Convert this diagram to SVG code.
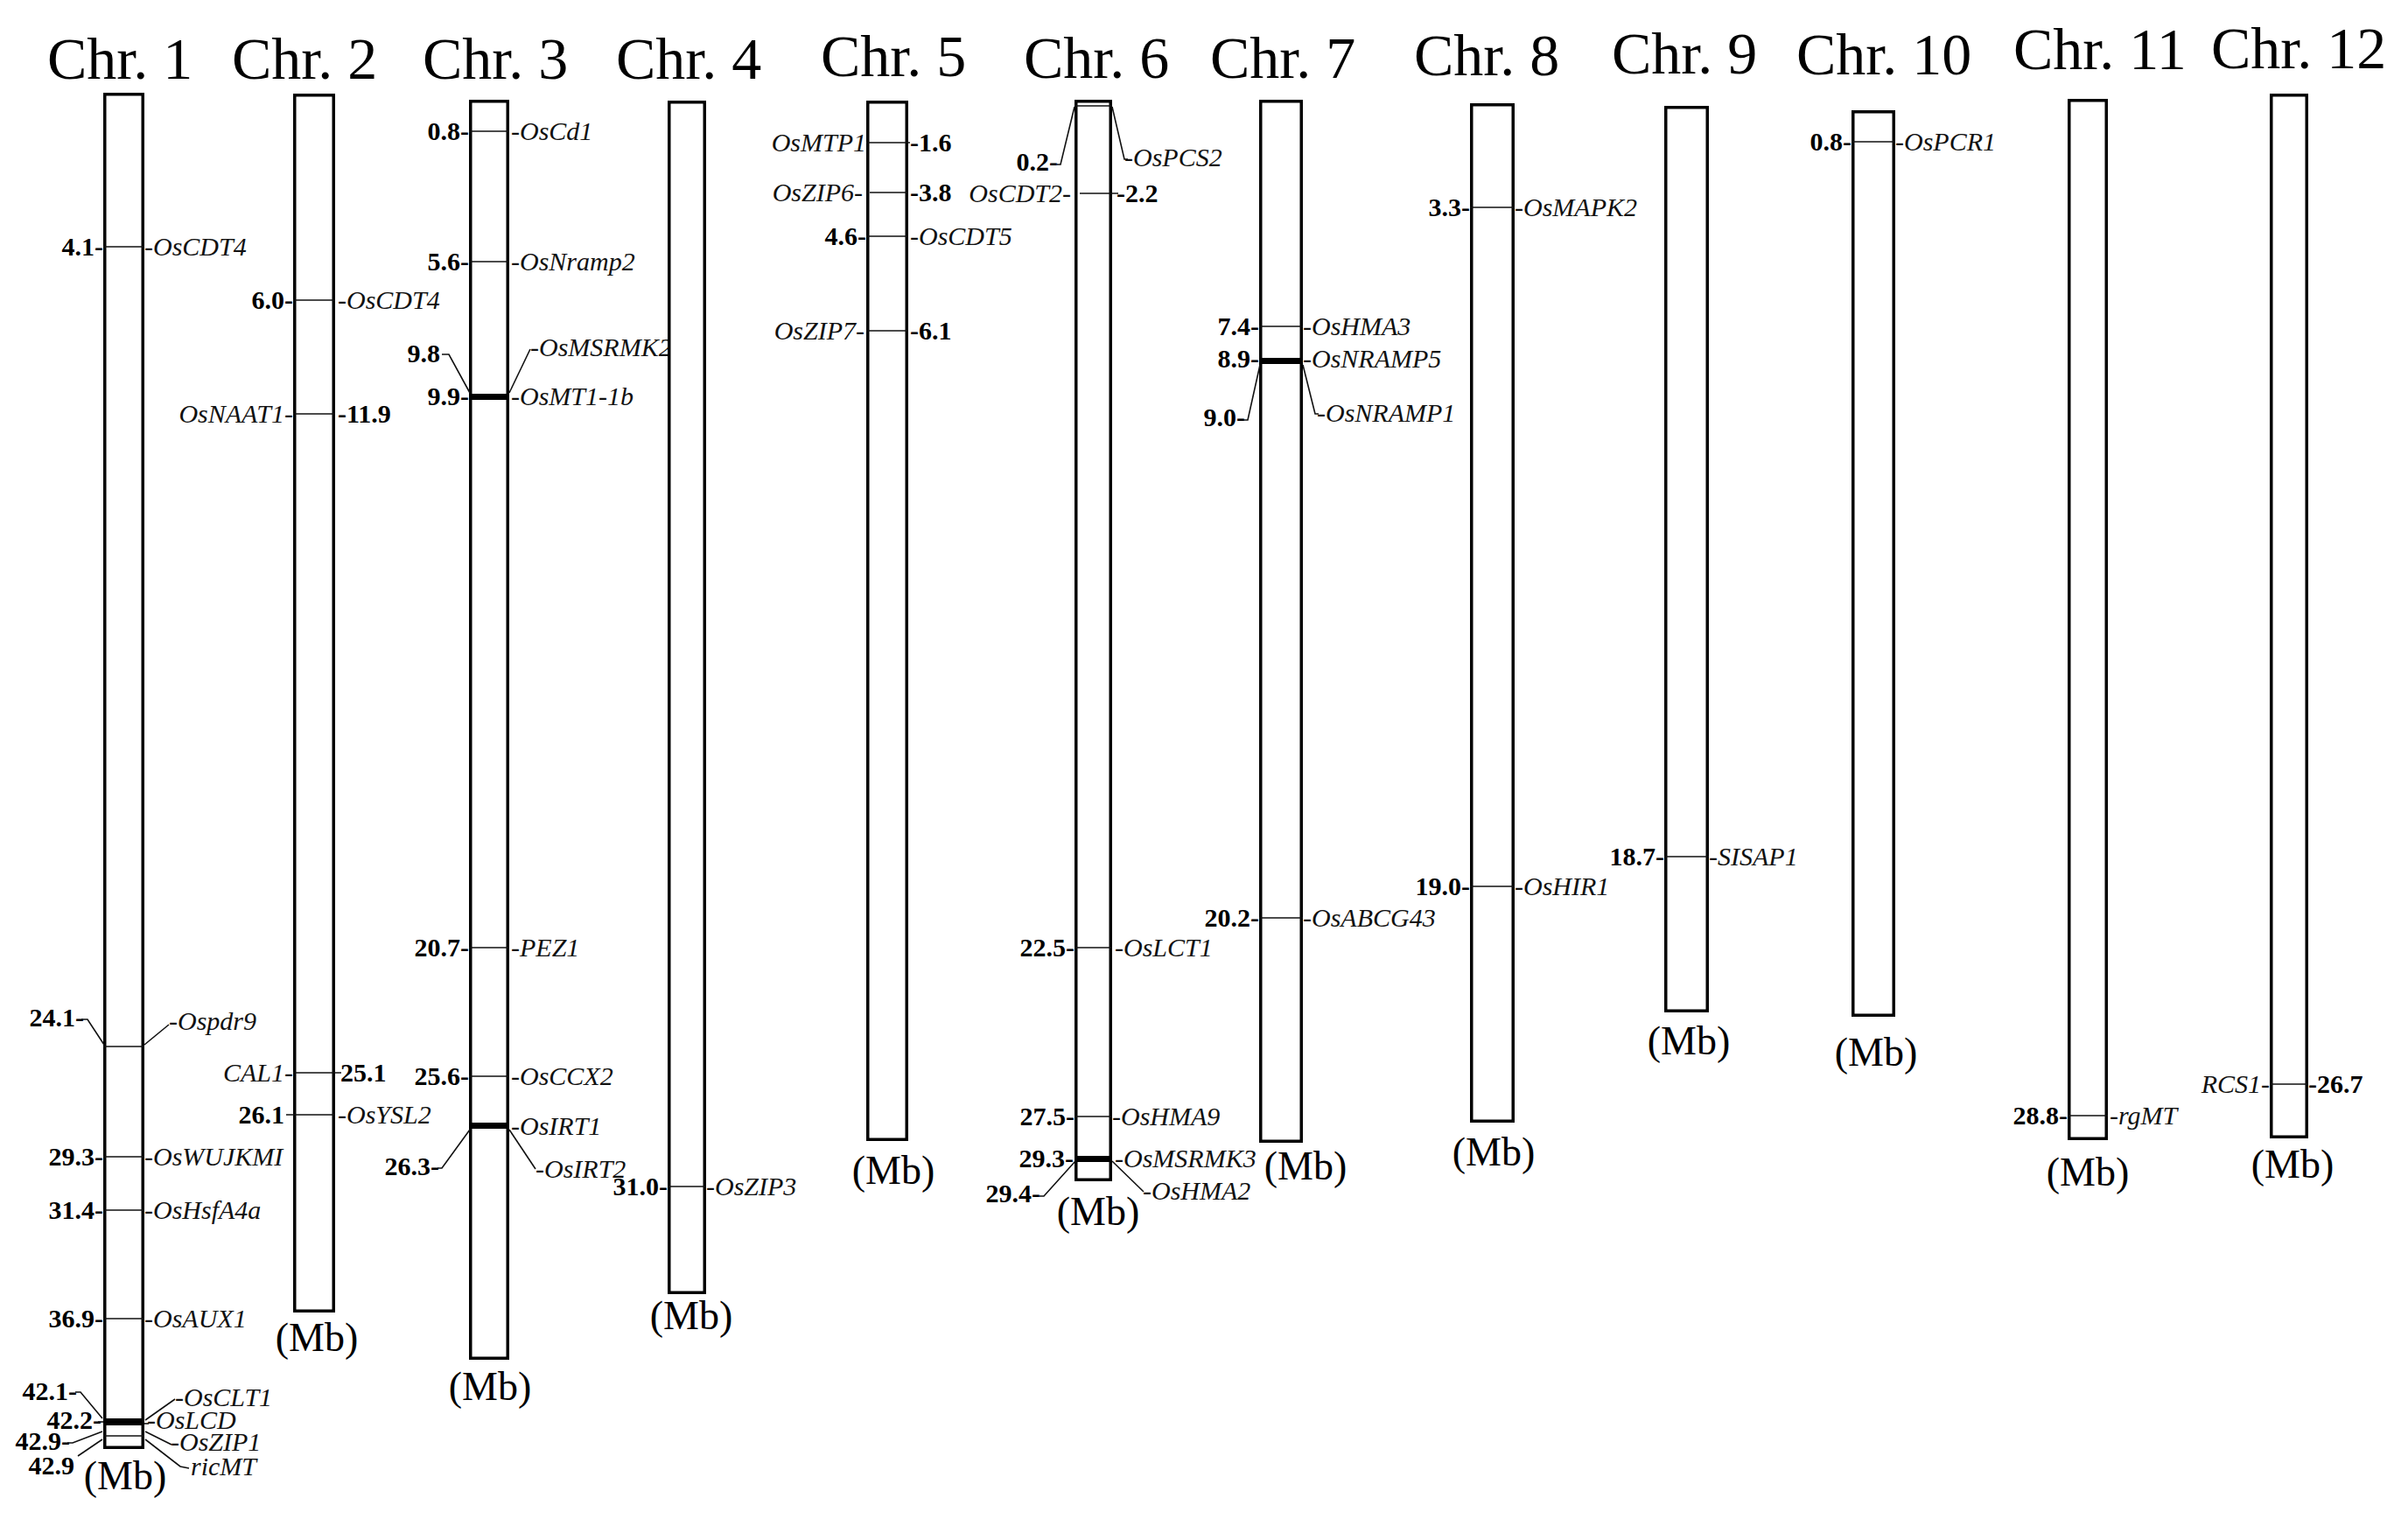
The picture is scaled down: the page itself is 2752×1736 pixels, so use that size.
<svg xmlns="http://www.w3.org/2000/svg" width="2752" height="1736" viewBox="0 0 2752 1736">
<style>
.chr{fill:#fff;stroke:#000;stroke-width:3.5}
.band{fill:#000}
.t{font-family:"Liberation Serif","Times New Roman",serif;font-size:68px;fill:#000}
.mb{font-family:"Liberation Serif","Times New Roman",serif;font-size:46px;fill:#000;text-anchor:middle}
.n{font-family:"Liberation Serif","Times New Roman",serif;font-size:30px;font-weight:bold;fill:#000}
.g{font-family:"Liberation Serif","Times New Roman",serif;font-size:30px;font-style:italic;fill:#111}
.e{text-anchor:end}
.ln{stroke:#111;stroke-width:1.6;fill:none}
</style>
<rect width="2752" height="1736" fill="#fff"/>

<g id="chr1">
<text class="t" x="54" y="90">Chr. 1</text>
<rect class="chr" x="119.75" y="107.75" width="43.5" height="1546.5"/>
<rect class="band" x="119" y="1621" width="45" height="8"/>
<text class="n e" x="118" y="292">4.1-</text><text class="g" x="165" y="292">-OsCDT4</text>
<text class="n e" x="96" y="1173">24.1-</text><text class="g" x="193" y="1177">-Ospdr9</text>
<text class="n e" x="118" y="1332">29.3-</text><text class="g" x="165" y="1332">-OsWUJKMI</text>
<text class="n e" x="118" y="1393">31.4-</text><text class="g" x="165" y="1393">-OsHsfA4a</text>
<text class="n e" x="118" y="1517">36.9-</text><text class="g" x="165" y="1517">-OsAUX1</text>
<text class="n e" x="88" y="1600">42.1-</text><text class="g" x="200" y="1607">-OsCLT1</text>
<text class="n e" x="116" y="1633">42.2-</text><text class="g" x="168" y="1633">-OsLCD</text>
<text class="n e" x="80" y="1657">42.9-</text><text class="g" x="195" y="1658">-OsZIP1</text>
<text class="n e" x="85" y="1685">42.9</text><text class="g" x="218" y="1686">ricMT</text>
<text class="mb" x="143" y="1702">(Mb)</text>
</g>

<g id="chr2">
<text class="t" x="265" y="90">Chr. 2</text>
<rect class="chr" x="336.75" y="108.75" width="44.5" height="1389.5"/>
<text class="n e" x="335" y="353">6.0-</text><text class="g" x="386" y="353">-OsCDT4</text>
<text class="g e" x="335" y="483">OsNAAT1-</text><text class="n" x="386" y="483">-11.9</text>
<text class="g e" x="335" y="1236">CAL1-</text><text class="n" x="389" y="1236">25.1</text>
<text class="n e" x="325" y="1284">26.1</text><text class="g" x="386" y="1284">-OsYSL2</text>
<text class="mb" x="362" y="1544">(Mb)</text>
</g>

<g id="chr3">
<text class="t" x="483" y="90">Chr. 3</text>
<rect class="chr" x="537.75" y="115.75" width="42.5" height="1436.5"/>
<rect class="band" x="537" y="450" width="44" height="7"/>
<rect class="band" x="537" y="1283" width="44" height="7"/>
<text class="n e" x="536" y="160">0.8-</text><text class="g" x="584" y="160">-OsCd1</text>
<text class="n e" x="536" y="309">5.6-</text><text class="g" x="584" y="309">-OsNramp2</text>
<text class="n e" x="503" y="414">9.8</text><text class="g" x="606" y="407">-OsMSRMK2</text>
<text class="n e" x="536" y="463">9.9-</text><text class="g" x="584" y="463">-OsMT1-1b</text>
<text class="n e" x="536" y="1093">20.7-</text><text class="g" x="584" y="1093">-PEZ1</text>
<text class="n e" x="536" y="1240">25.6-</text><text class="g" x="584" y="1240">-OsCCX2</text>
<text class="g" x="584" y="1297">-OsIRT1</text>
<text class="n e" x="502" y="1343">26.3-</text><text class="g" x="612" y="1346">-OsIRT2</text>
<text class="mb" x="560" y="1600">(Mb)</text>
</g>

<g id="chr4">
<text class="t" x="704" y="90">Chr. 4</text>
<rect class="chr" x="764.75" y="116.75" width="40.5" height="1360.5"/>
<text class="n e" x="763" y="1366">31.0-</text><text class="g" x="807" y="1366">-OsZIP3</text>
<text class="mb" x="790" y="1519">(Mb)</text>
</g>

<g id="chr5">
<text class="t" x="938" y="87">Chr. 5</text>
<rect class="chr" x="991.75" y="116.75" width="44.5" height="1185.5"/>
<text class="g e" x="990" y="173">OsMTP1</text><text class="n" x="1040" y="173">-1.6</text>
<text class="g e" x="986" y="230">OsZIP6-</text><text class="n" x="1040" y="230">-3.8</text>
<text class="n e" x="990" y="280">4.6-</text><text class="g" x="1040" y="280">-OsCDT5</text>
<text class="g e" x="988" y="388">OsZIP7-</text><text class="n" x="1040" y="388">-6.1</text>
<text class="mb" x="1021" y="1353">(Mb)</text>
</g>

<g id="chr6">
<text class="t" x="1170" y="89">Chr. 6</text>
<rect class="chr" x="1229.75" y="115.75" width="39.5" height="1232.5"/>
<rect class="band" x="1229" y="1321" width="41" height="7"/>
<text class="n e" x="1209" y="195">0.2-</text><text class="g" x="1285" y="190">-OsPCS2</text>
<text class="g e" x="1224" y="231">OsCDT2-</text><text class="n" x="1276" y="231">-2.2</text>
<text class="n e" x="1228" y="1093">22.5-</text><text class="g" x="1274" y="1093">-OsLCT1</text>
<text class="n e" x="1228" y="1286">27.5-</text><text class="g" x="1271" y="1286">-OsHMA9</text>
<text class="n e" x="1227" y="1334">29.3-</text><text class="g" x="1274" y="1334">-OsMSRMK3</text>
<text class="n e" x="1189" y="1374">29.4-</text><text class="g" x="1306" y="1371">-OsHMA2</text>
<text class="mb" x="1255" y="1400">(Mb)</text>
</g>

<g id="chr7">
<text class="t" x="1383" y="89">Chr. 7</text>
<rect class="chr" x="1440.75" y="115.75" width="46.5" height="1188.5"/>
<rect class="band" x="1440" y="409" width="48" height="7"/>
<text class="n e" x="1439" y="383">7.4-</text><text class="g" x="1489" y="383">-OsHMA3</text>
<text class="n e" x="1439" y="420">8.9-</text><text class="g" x="1489" y="420">-OsNRAMP5</text>
<text class="n e" x="1423" y="487">9.0-</text><text class="g" x="1505" y="482">-OsNRAMP1</text>
<text class="n e" x="1439" y="1059">20.2-</text><text class="g" x="1489" y="1059">-OsABCG43</text>
<text class="mb" x="1492" y="1348">(Mb)</text>
</g>

<g id="chr8">
<text class="t" x="1616" y="86">Chr. 8</text>
<rect class="chr" x="1681.75" y="119.75" width="47.5" height="1161.5"/>
<text class="n e" x="1680" y="247">3.3-</text><text class="g" x="1731" y="247">-OsMAPK2</text>
<text class="n e" x="1680" y="1023">19.0-</text><text class="g" x="1731" y="1023">-OsHIR1</text>
<text class="mb" x="1707" y="1332">(Mb)</text>
</g>

<g id="chr9">
<text class="t" x="1842" y="84">Chr. 9</text>
<rect class="chr" x="1903.75" y="122.75" width="47.5" height="1032.5"/>
<text class="n e" x="1902" y="989">18.7-</text><text class="g" x="1953" y="989">-SISAP1</text>
<text class="mb" x="1930" y="1205">(Mb)</text>
</g>

<g id="chr10">
<text class="t" x="2053" y="85">Chr. 10</text>
<rect class="chr" x="2117.75" y="127.75" width="46.5" height="1032.5"/>
<text class="n e" x="2116" y="172">0.8-</text><text class="g" x="2166" y="172">-OsPCR1</text>
<text class="mb" x="2144" y="1218">(Mb)</text>
</g>

<g id="chr11">
<text class="t" x="2301" y="79">Chr. 11</text>
<rect class="chr" x="2364.75" y="114.75" width="42.5" height="1186.5"/>
<text class="n e" x="2363" y="1285">28.8-</text><text class="g" x="2411" y="1285">-rgMT</text>
<text class="mb" x="2386" y="1355">(Mb)</text>
</g>

<g id="chr12">
<text class="t" x="2527" y="78">Chr. 12</text>
<rect class="chr" x="2595.75" y="108.75" width="40.5" height="1190.5"/>
<text class="g e" x="2594" y="1249">RCS1-</text><text class="n" x="2638" y="1249">-26.7</text>
<text class="mb" x="2620" y="1346">(Mb)</text>
</g>

<g id="connectors" class="ln">
<line x1="118" y1="282" x2="165" y2="282"/>
<line x1="118" y1="1196" x2="165" y2="1196"/>
<polyline points="93,1165 100,1165 119,1194"/>
<polyline points="165,1194 193,1171"/>
<line x1="118" y1="1322" x2="165" y2="1322"/>
<line x1="118" y1="1383" x2="165" y2="1383"/>
<line x1="118" y1="1507" x2="165" y2="1507"/>
<polyline points="86,1591 92,1591 117,1621"/>
<line x1="112" y1="1625" x2="118" y2="1625"/>
<polyline points="77,1649 83,1649 117,1636"/>
<polyline points="89,1664 117,1645"/>
<line x1="118" y1="1641" x2="165" y2="1641"/>
<polyline points="166,1623 200,1599"/>
<line x1="165" y1="1627" x2="170" y2="1627"/>
<polyline points="166,1636 196,1651"/>
<polyline points="166,1645 206,1676 216,1678"/>
<line x1="335" y1="343" x2="383" y2="343"/>
<line x1="335" y1="473" x2="383" y2="473"/>
<line x1="335" y1="1226" x2="390" y2="1226"/>
<line x1="327" y1="1274" x2="383" y2="1274"/>
<line x1="536" y1="150" x2="582" y2="150"/>
<line x1="536" y1="299" x2="582" y2="299"/>
<polyline points="505,405 513,405 537,449"/>
<polyline points="582,449 606,399"/>
<line x1="536" y1="1083" x2="582" y2="1083"/>
<line x1="536" y1="1230" x2="582" y2="1230"/>
<polyline points="500,1335 505,1335 537,1291"/>
<polyline points="582,1291 612,1336"/>
<line x1="763" y1="1356" x2="807" y2="1356"/>
<line x1="990" y1="163" x2="1040" y2="163"/>
<line x1="994" y1="220" x2="1038" y2="220"/>
<line x1="990" y1="270" x2="1038" y2="270"/>
<line x1="990" y1="378" x2="1038" y2="378"/>
<line x1="1228" y1="121" x2="1271" y2="121"/>
<polyline points="1208,188 1212,188 1228,122"/>
<polyline points="1271,122 1285,182 1289,182"/>
<line x1="1234" y1="221" x2="1278" y2="221"/>
<line x1="1228" y1="1083" x2="1271" y2="1083"/>
<line x1="1228" y1="1276" x2="1271" y2="1276"/>
<polyline points="1188,1367 1193,1367 1229,1327"/>
<polyline points="1271,1327 1307,1362"/>
<line x1="1439" y1="373" x2="1489" y2="373"/>
<polyline points="1421,480 1426,480 1440,417"/>
<polyline points="1489,417 1503,473 1507,473"/>
<line x1="1439" y1="1049" x2="1489" y2="1049"/>
<line x1="1680" y1="237" x2="1731" y2="237"/>
<line x1="1680" y1="1013" x2="1731" y2="1013"/>
<line x1="1902" y1="979" x2="1953" y2="979"/>
<line x1="2116" y1="162" x2="2166" y2="162"/>
<line x1="2363" y1="1275" x2="2409" y2="1275"/>
<line x1="2594" y1="1239" x2="2638" y2="1239"/>
</g>
</svg>
